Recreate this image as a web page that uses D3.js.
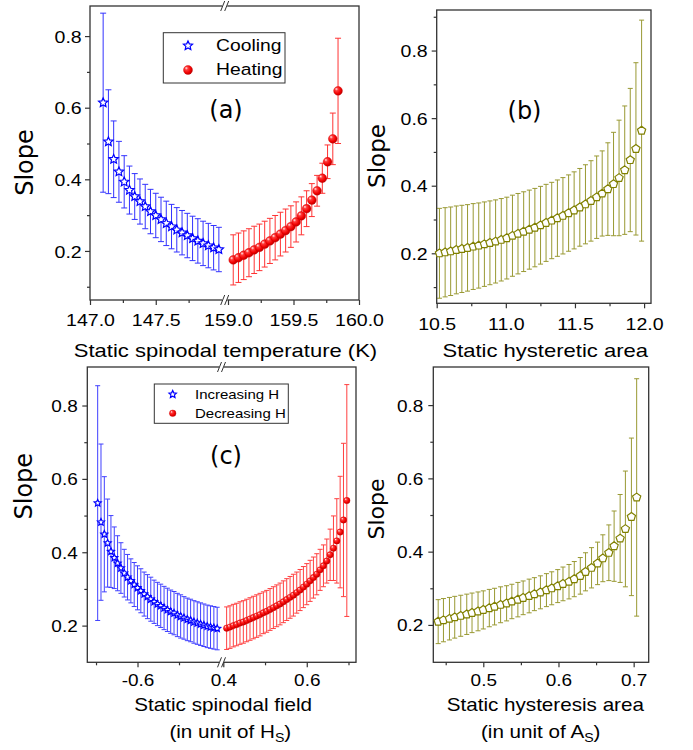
<!DOCTYPE html>
<html><head><meta charset="utf-8">
<script src="https://cdn.jsdelivr.net/npm/d3@7"></script>
<style>body{margin:0;background:#fff}</style>
</head><body><svg id="c" width="693" height="750" style="display:block;background:#fff"></svg>
<script>
// ---------- DATA ----------
// (a) cooling
const coolT = [147.10,147.14,147.18,147.22,147.26,147.30,147.34,147.38,147.42,147.46,147.50,147.54,147.58,147.62,147.66,147.70,147.74,147.78,147.82,147.86,147.90,147.94,147.98];
const coolSlope = [0.614,0.505,0.456,0.421,0.393,0.370,0.352,0.338,0.324,0.310,0.299,0.288,0.277,0.268,0.259,0.251,0.243,0.235,0.228,0.221,0.215,0.209,0.204];
const coolErr = [0.250,0.145,0.107,0.085,0.073,0.067,0.064,0.063,0.062,0.062,0.062,0.062,0.062,0.062,0.062,0.062,0.062,0.062,0.062,0.062,0.062,0.062,0.062];
// (a) heating
const heatT = [159.04,159.08,159.12,159.16,159.20,159.24,159.28,159.32,159.36,159.40,159.44,159.48,159.52,159.56,159.60,159.64,159.68,159.72,159.76,159.80,159.84];
const heatSlope = [0.175,0.181,0.188,0.195,0.203,0.210,0.219,0.228,0.237,0.247,0.257,0.268,0.281,0.298,0.318,0.342,0.368,0.403,0.449,0.513,0.647];
const heatErr = [0.070,0.069,0.068,0.067,0.066,0.065,0.064,0.063,0.062,0.061,0.060,0.058,0.056,0.053,0.050,0.046,0.043,0.042,0.047,0.072,0.147];
// (b)
const areaB = [10.520,10.561,10.601,10.642,10.682,10.723,10.764,10.804,10.845,10.885,10.926,10.967,11.007,11.048,11.088,11.129,11.170,11.210,11.251,11.291,11.332,11.373,11.413,11.454,11.494,11.535,11.576,11.616,11.657,11.697,11.738,11.779,11.819,11.860,11.900,11.941,11.982];
const slopeB = [0.200,0.203,0.206,0.210,0.213,0.216,0.220,0.223,0.227,0.231,0.235,0.240,0.245,0.252,0.258,0.264,0.270,0.276,0.283,0.290,0.297,0.304,0.311,0.319,0.327,0.336,0.345,0.355,0.366,0.377,0.390,0.405,0.423,0.446,0.476,0.509,0.563];
const errB = [0.133,0.132,0.131,0.130,0.129,0.128,0.127,0.126,0.125,0.124,0.123,0.122,0.121,0.120,0.119,0.118,0.117,0.116,0.115,0.114,0.113,0.113,0.113,0.113,0.114,0.115,0.117,0.119,0.122,0.126,0.137,0.153,0.171,0.190,0.212,0.255,0.327];
// (c) increasing H
const fieldInc = [-0.696,-0.688,-0.680,-0.672,-0.664,-0.656,-0.648,-0.640,-0.632,-0.624,-0.616,-0.608,-0.600,-0.592,-0.584,-0.576,-0.568,-0.560,-0.552,-0.544,-0.536,-0.528,-0.520,-0.512,-0.504,-0.496,-0.488,-0.480,-0.472,-0.464,-0.456,-0.448,-0.440,-0.432,-0.424,-0.416,-0.408];
const slopeInc = [0.534,0.482,0.449,0.425,0.402,0.385,0.370,0.357,0.343,0.332,0.322,0.312,0.303,0.295,0.286,0.279,0.272,0.265,0.259,0.254,0.248,0.243,0.238,0.234,0.229,0.225,0.221,0.217,0.214,0.210,0.207,0.204,0.201,0.198,0.196,0.194,0.192];
const errInc = [0.320,0.213,0.157,0.120,0.098,0.084,0.075,0.069,0.065,0.062,0.060,0.060,0.060,0.060,0.060,0.060,0.060,0.059,0.059,0.059,0.059,0.059,0.059,0.059,0.059,0.059,0.058,0.058,0.058,0.058,0.058,0.058,0.058,0.058,0.058,0.058,0.058];
// (c) decreasing H
const fieldDec = [0.408,0.416,0.424,0.432,0.440,0.448,0.456,0.464,0.472,0.480,0.488,0.496,0.504,0.512,0.520,0.528,0.536,0.544,0.552,0.560,0.568,0.576,0.584,0.592,0.600,0.608,0.616,0.624,0.632,0.640,0.648,0.656,0.664,0.672,0.680,0.688,0.696];
const slopeDec = [0.193,0.196,0.200,0.203,0.207,0.210,0.214,0.218,0.222,0.226,0.230,0.235,0.239,0.244,0.249,0.254,0.259,0.265,0.271,0.277,0.283,0.290,0.297,0.305,0.313,0.322,0.331,0.340,0.352,0.363,0.376,0.393,0.411,0.431,0.455,0.488,0.541];
const errDec = [0.058,0.058,0.058,0.058,0.058,0.058,0.058,0.058,0.058,0.058,0.058,0.057,0.057,0.057,0.057,0.057,0.057,0.057,0.057,0.057,0.057,0.056,0.056,0.056,0.056,0.056,0.056,0.056,0.056,0.057,0.060,0.070,0.088,0.115,0.152,0.209,0.316];
// (d)
const areaD = [0.440,0.447,0.455,0.462,0.470,0.478,0.485,0.493,0.500,0.508,0.515,0.523,0.531,0.538,0.546,0.553,0.561,0.568,0.576,0.584,0.591,0.599,0.606,0.614,0.621,0.629,0.636,0.644,0.652,0.659,0.667,0.674,0.682,0.689,0.697,0.704];
const slopeD = [0.209,0.213,0.217,0.221,0.225,0.229,0.233,0.237,0.241,0.246,0.250,0.255,0.259,0.264,0.269,0.274,0.279,0.284,0.289,0.295,0.300,0.306,0.312,0.318,0.325,0.334,0.345,0.356,0.368,0.382,0.397,0.415,0.436,0.462,0.495,0.548];
const errD = [0.060,0.059,0.058,0.057,0.056,0.055,0.054,0.053,0.052,0.051,0.050,0.049,0.048,0.047,0.047,0.046,0.046,0.045,0.045,0.045,0.045,0.045,0.046,0.047,0.048,0.050,0.052,0.055,0.058,0.064,0.076,0.096,0.120,0.158,0.215,0.324];

// ticks
const yMajor = [0.2,0.4,0.6,0.8];
const yMinor = [0.1,0.3,0.5,0.7];
const ticksA_L = [147.0,147.5], minorA_L = [147.25,147.75];
const ticksA_R = [159.0,159.5,160.0], minorA_R = [159.25,159.75];
const ticksB = [10.5,11.0,11.5,12.0], minorB = [10.75,11.25,11.75];
const ticksC_L = [-0.6], minorC_L = [-0.7,-0.5];
const ticksC_R = [0.4,0.6], minorC_R = [0.5,0.7];
const ticksD = [0.5,0.6,0.7], minorD = [0.45,0.55,0.65];

// ---------- DRAW ----------
const svg = d3.select("#c");
const SANS = "'Liberation Sans', Arial, sans-serif";
const DJV = "'DejaVu Sans', sans-serif";
const AXC = "#333";
const BLUE = "#0000ff", RED = "#ff0000", OLIVE = "#808000";

const defs = svg.append("defs");
const grad = defs.append("radialGradient").attr("id","ball")
  .attr("cx","0.4").attr("cy","0.4").attr("r","0.65").attr("fx","0.3").attr("fy","0.28");
grad.append("stop").attr("offset","0%").attr("stop-color","#fff0f0");
grad.append("stop").attr("offset","28%").attr("stop-color","#ff3a3a");
grad.append("stop").attr("offset","70%").attr("stop-color","#f00000");
grad.append("stop").attr("offset","100%").attr("stop-color","#b00000");

function stext(g, x, y, str, fs, anchor, sx, fam){
  return g.append("text").attr("transform",`translate(${x},${y}) scale(${sx},1)`)
    .attr("text-anchor",anchor).style("font-family",fam||SANS).style("font-size",fs+"px")
    .attr("fill","#000").text(str);
}
function pentagon(r){
  let p="";
  for(let k=0;k<5;k++){const a=-Math.PI/2+k*2*Math.PI/5;p+=(k?"L":"M")+(r*Math.cos(a)).toFixed(2)+","+(r*Math.sin(a)).toFixed(2);}
  return p+"Z";
}
function starPath(R){
  const ri = R*0.47; let p="";
  for(let k=0;k<10;k++){const a=-Math.PI/2+k*Math.PI/5, rr=k%2?ri:R;
    p+=(k?"L":"M")+(rr*Math.cos(a)).toFixed(2)+","+(rr*Math.sin(a)).toFixed(2);}
  return p+"Z";
}

function panel(c){
  const g = svg.append("g");
  const y = d3.scaleLinear().domain(c.yDom).range([c.B, c.T]);
  const segs = c.segs.map(s => Object.assign({}, s, {sc: d3.scaleLinear().domain(s.dom).range(s.rng)}));
  g.append("rect").attr("x",c.L).attr("y",c.T).attr("width",c.R-c.L).attr("height",c.B-c.T)
    .attr("fill","none").attr("stroke",AXC).attr("stroke-width",1.3);
  if(c.brk!=null){
    [c.T,c.B].forEach(yy=>{
      g.append("rect").attr("x",c.brk-2.5).attr("y",yy-2).attr("width",5).attr("height",4).attr("fill","#fff");
      [-2,2].forEach(o=>g.append("line").attr("x1",c.brk+o-2).attr("y1",yy+5).attr("x2",c.brk+o+2).attr("y2",yy-5)
        .attr("stroke",AXC).attr("stroke-width",1));
    });
  }
  const ya = g.append("g").attr("transform",`translate(${c.L},0)`)
    .call(d3.axisLeft(y).tickValues(yMajor).tickSize(5).tickFormat(d=>d.toFixed(1)));
  const ym = g.append("g").attr("transform",`translate(${c.L},0)`)
    .call(d3.axisLeft(y).tickValues(c.yMinor).tickSize(3).tickFormat(""));
  [ya,ym].forEach(a=>{a.select(".domain").remove();a.selectAll("line").attr("stroke",AXC).attr("stroke-width",1.2);});
  ya.selectAll("text").attr("x",-c.yGap/c.sx).attr("dy","0.36em").attr("transform",`scale(${c.sx},1)`)
    .attr("fill","#000").style("font-family",SANS).style("font-size",c.tfs+"px");
  segs.forEach(s=>{
    const xa = g.append("g").attr("transform",`translate(0,${c.B})`)
      .call(d3.axisBottom(s.sc).tickValues(s.major).tickSize(5).tickFormat(d=>d.toFixed(1)));
    const xm = g.append("g").attr("transform",`translate(0,${c.B})`)
      .call(d3.axisBottom(s.sc).tickValues(s.minor).tickSize(3).tickFormat(""));
    [xa,xm].forEach(a=>{a.select(".domain").remove();a.selectAll("line").attr("stroke",AXC).attr("stroke-width",1.2);});
    xa.selectAll("text").attr("y",c.xOff).attr("dy",0).attr("transform",`scale(${c.sx},1)`)
      .attr("fill","#000").style("font-family",SANS).style("font-size",c.tfs+"px");
  });
  return {g, y, segs};
}

function errorBars(g, xs, ys, es, xsc, ysc, color, cw, op){
  const eg = g.append("g").attr("stroke",color).attr("stroke-width",1).attr("opacity",op);
  xs.forEach((xv,i)=>{
    const px = xsc(xv), y1 = ysc(ys[i]-es[i]), y2 = ysc(ys[i]+es[i]);
    eg.append("line").attr("x1",px).attr("x2",px).attr("y1",y1).attr("y2",y2);
    eg.append("line").attr("x1",px-cw/2).attr("x2",px+cw/2).attr("y1",y1).attr("y2",y1);
    eg.append("line").attr("x1",px-cw/2).attr("x2",px+cw/2).attr("y1",y2).attr("y2",y2);
  });
}
function stars(g, xs, ys, xsc, ysc, r){
  g.append("g").selectAll("path").data(xs).join("path")
    .attr("d",starPath(r)).attr("transform",(d,i)=>`translate(${xsc(d)},${ysc(ys[i])})`)
    .attr("fill","#fff").attr("stroke",BLUE).attr("stroke-width",1.2);
}
function balls(g, xs, ys, xsc, ysc, r){
  g.append("g").selectAll("circle").data(xs).join("circle")
    .attr("cx",d=>xsc(d)).attr("cy",(d,i)=>ysc(ys[i])).attr("r",r)
    .attr("fill","url(#ball)").attr("stroke","#d00000").attr("stroke-width",0.4);
}
function pents(g, xs, ys, xsc, ysc, r){
  g.append("g").selectAll("path").data(xs).join("path")
    .attr("d",pentagon(r)).attr("transform",(d,i)=>`translate(${xsc(d)},${ysc(ys[i])})`)
    .attr("fill","#fff").attr("stroke",OLIVE).attr("stroke-width",1.2);
}

// ----- Panel (a) -----
const A = panel({L:90,R:359,T:6,B:300,yDom:[0.063,0.884],yMinor:yMinor,brk:224.7,
  segs:[{dom:[147,148],rng:[90,221.5],major:ticksA_L,minor:minorA_L},
        {dom:[159,160],rng:[228,359],major:ticksA_R,minor:minorA_R}],
  sx:1.15,tfs:17,yGap:8.3,xOff:26.5});
errorBars(A.g, coolT, coolSlope, coolErr, A.segs[0].sc, A.y, BLUE, 6, 0.8);
errorBars(A.g, heatT, heatSlope, heatErr, A.segs[1].sc, A.y, RED, 6, 0.8);
stars(A.g, coolT, coolSlope, A.segs[0].sc, A.y, 4.8);
balls(A.g, heatT, heatSlope, A.segs[1].sc, A.y, 4.4);
A.g.append("rect").attr("x",163.3).attr("y",32.7).attr("width",121.7).attr("height",50.3)
  .attr("fill","#fff").attr("stroke",AXC).attr("stroke-width",1);
A.g.append("path").attr("d",starPath(4.8)).attr("transform","translate(188,45.7)")
  .attr("fill","#fff").attr("stroke",BLUE).attr("stroke-width",1.2);
A.g.append("circle").attr("cx",188).attr("cy",70).attr("r",4.5).attr("fill","url(#ball)").attr("stroke","#d00000").attr("stroke-width",0.4);
stext(A.g,216,51,"Cooling",16.5,"start",1.17);
stext(A.g,216,74.5,"Heating",16.5,"start",1.17);
stext(A.g,226,118,"(a)",24,"middle",1,DJV);
stext(A.g,225.5,356.5,"Static spinodal temperature (K)",18.5,"middle",1.19);
A.g.append("text").attr("transform","translate(32.6,162.5) rotate(-90)").attr("text-anchor","middle")
  .style("font-family",DJV).style("font-size","24px").text("Slope");

// ----- Panel (b) -----
const Bp = panel({L:436.7,R:651,T:10,B:303.3,yDom:[0.052,0.92],yMinor:[0.1,0.3,0.5,0.7,0.9],brk:null,
  segs:[{dom:[10.5,12.05],rng:[436.7,651],major:ticksB,minor:minorB}],
  sx:1.15,tfs:17,yGap:9,xOff:26.5});
errorBars(Bp.g, areaB, slopeB, errB, Bp.segs[0].sc, Bp.y, OLIVE, 5, 0.8);
pents(Bp.g, areaB, slopeB, Bp.segs[0].sc, Bp.y, 4.3);
stext(Bp.g,524.5,118.5,"(b)",24,"middle",1,DJV);
stext(Bp.g,545.2,356.5,"Static hysteretic area",18.5,"middle",1.19);
Bp.g.append("text").attr("transform","translate(385,156) rotate(-90)").attr("text-anchor","middle")
  .style("font-family",DJV).style("font-size","23px").text("Slope");

// ----- Panel (c) -----
const Cp = panel({L:87.3,R:356,T:367,B:662.3,yDom:[0.1,0.905],yMinor:[0.3,0.5,0.7],brk:221.5,
  segs:[{dom:[-0.721,-0.40],rng:[87.3,220.5],major:ticksC_L,minor:minorC_L},
        {dom:[0.4,0.718],rng:[223.3,356],major:ticksC_R,minor:minorC_R}],
  sx:1.15,tfs:16.5,yGap:9.6,xOff:23.5});
errorBars(Cp.g, fieldInc, slopeInc, errInc, Cp.segs[0].sc, Cp.y, BLUE, 5, 0.75);
errorBars(Cp.g, fieldDec, slopeDec, errDec, Cp.segs[1].sc, Cp.y, RED, 5, 0.75);
stars(Cp.g, fieldInc, slopeInc, Cp.segs[0].sc, Cp.y, 3.7);
balls(Cp.g, fieldDec, slopeDec, Cp.segs[1].sc, Cp.y, 3.2);
Cp.g.append("rect").attr("x",154.3).attr("y",384).attr("width",134).attr("height",39.3)
  .attr("fill","#fff").attr("stroke",AXC).attr("stroke-width",1);
Cp.g.append("path").attr("d",starPath(3.9)).attr("transform","translate(172.7,394.3)")
  .attr("fill","#fff").attr("stroke",BLUE).attr("stroke-width",1.2);
Cp.g.append("circle").attr("cx",172.7).attr("cy",413.3).attr("r",3.3).attr("fill","url(#ball)").attr("stroke","#d00000").attr("stroke-width",0.4);
stext(Cp.g,195,399,"Increasing H",12.7,"start",1.18);
stext(Cp.g,195,418,"Decreasing H",12.7,"start",1.18);
stext(Cp.g,226,463.5,"(c)",24,"middle",1,DJV);
stext(Cp.g,223.2,710.8,"Static spinodal field",17.5,"middle",1.18);
{
  const t = stext(Cp.g,230.3,738,"",17.5,"middle",1.18);
  t.append("tspan").text("(in unit of H");
  t.append("tspan").attr("dy",4).style("font-size","12px").text("S");
  t.append("tspan").attr("dy",-4).text(")");
}
Cp.g.append("text").attr("transform","translate(31.6,486.2) rotate(-90)").attr("text-anchor","middle")
  .style("font-family",DJV).style("font-size","24px").text("Slope");

// ----- Panel (d) -----
const Dp = panel({L:433.3,R:648.7,T:367,B:662.3,yDom:[0.098,0.904],yMinor:[0.3,0.5,0.7],brk:null,
  segs:[{dom:[0.4335,0.72],rng:[433.3,648.7],major:ticksD,minor:minorD}],
  sx:1.15,tfs:16.5,yGap:10,xOff:23.5});
errorBars(Dp.g, areaD, slopeD, errD, Dp.segs[0].sc, Dp.y, OLIVE, 5, 0.8);
pents(Dp.g, areaD, slopeD, Dp.segs[0].sc, Dp.y, 4.3);
stext(Dp.g,545.3,710.8,"Static hysteresis area",17.5,"middle",1.18);
{
  const t = stext(Dp.g,540.7,738,"",17.5,"middle",1.18);
  t.append("tspan").text("(in unit of A");
  t.append("tspan").attr("dy",4).style("font-size","12px").text("S");
  t.append("tspan").attr("dy",-4).text(")");
}
Dp.g.append("text").attr("transform","translate(384.1,509) rotate(-90)").attr("text-anchor","middle")
  .style("font-family",DJV).style("font-size","22px").text("Slope");
</script></body></html>
